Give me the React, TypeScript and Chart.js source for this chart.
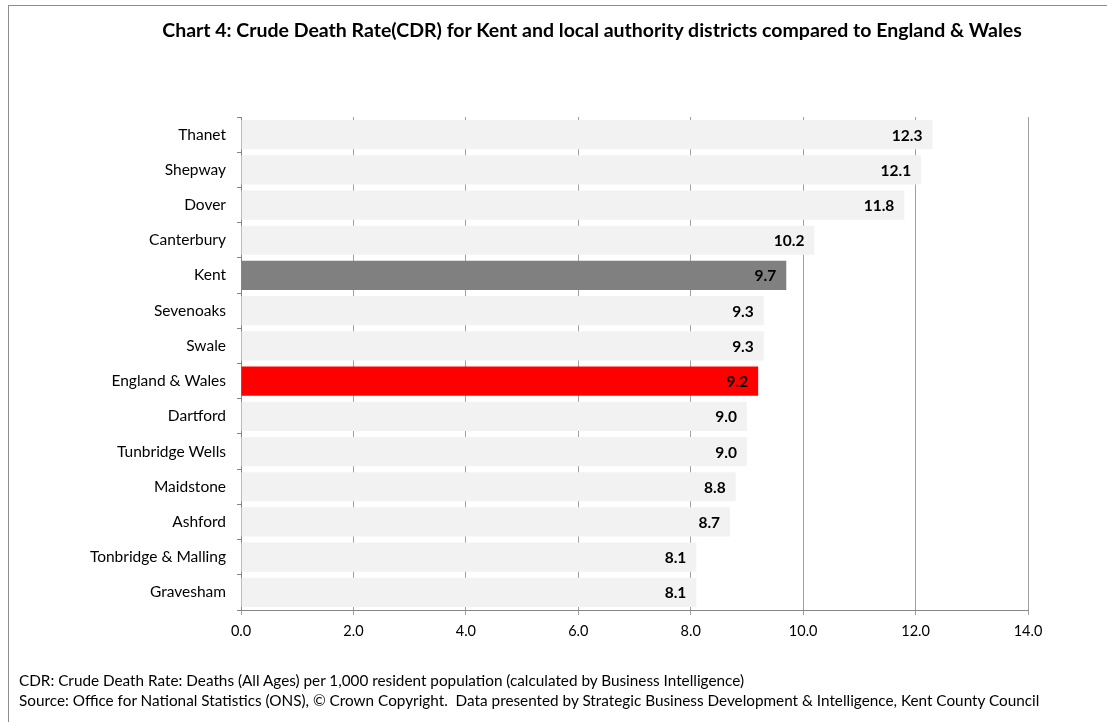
import React, { useEffect, useRef } from "react";
import { Chart, registerables } from "chart.js";

Chart.register(...registerables);

// Districts in display order (top to bottom) and their crude death rates
const districts = [
  "Thanet",
  "Shepway",
  "Dover",
  "Canterbury",
  "Kent",
  "Sevenoaks",
  "Swale",
  "England & Wales",
  "Dartford",
  "Tunbridge Wells",
  "Maidstone",
  "Ashford",
  "Tonbridge & Malling",
  "Gravesham",
];
const deathRates = [12.3, 12.1, 11.8, 10.2, 9.7, 9.3, 9.3, 9.2, 9.0, 9.0, 8.8, 8.7, 8.1, 8.1];

const axisMin = 0;
const axisMax = 14;
const axisStep = 2;

const titleText =
  "Chart 4: Crude Death Rate(CDR) for Kent and local authority districts compared to England & Wales";
const footnoteLines = [
  "CDR: Crude Death Rate: Deaths (All Ages) per 1,000 resident population (calculated by Business Intelligence)",
  "Source: Office for National Statistics (ONS), \u00A9 Crown Copyright.  Data presented by Strategic Business Development & Intelligence, Kent County Council",
];

const FONT = "Lato, 'Open Sans', sans-serif";
const W = 1107;
const H = 722;

function barColour(name: string): string {
  if (name === "Kent") return "#808080";
  if (name === "England & Wales") return "#ff0000";
  return "#f2f2f2";
}

// Writes each bar's value just inside its right-hand end
const valueLabels = {
  id: "valueLabels",
  afterDatasetsDraw(chart: any) {
    const ctx = chart.ctx;
    const meta = chart.getDatasetMeta(0);
    const values = chart.data.datasets[0].data as number[];
    ctx.save();
    ctx.font = `bold 15.5px ${FONT}`;
    ctx.fillStyle = "#000";
    ctx.textAlign = "right";
    ctx.textBaseline = "middle";
    meta.data.forEach((bar: any, i: number) => {
      ctx.fillText(values[i].toFixed(1), bar.x - 10, bar.y + 1);
    });
    ctx.restore();
  },
};

export default function App() {
  const canvasRef = useRef<HTMLCanvasElement | null>(null);

  useEffect(() => {
    if (!canvasRef.current) return;
    const chart = new Chart(canvasRef.current, {
      type: "bar",
      data: {
        labels: districts,
        datasets: [
          {
            data: deathRates,
            backgroundColor: districts.map(barColour),
            borderWidth: 0,
            barPercentage: 0.83,
            categoryPercentage: 1,
          },
        ],
      },
      options: {
        indexAxis: "y",
        responsive: false,
        animation: false,
        events: [],
        layout: { padding: { top: 117, right: 79, left: 0, bottom: 0 } },
        plugins: {
          legend: { display: false },
          title: { display: false },
          tooltip: { enabled: false },
        },
        scales: {
          x: {
            min: axisMin,
            max: axisMax,
            ticks: {
              stepSize: axisStep,
              color: "#000",
              font: { family: FONT, size: 14.5 },
              padding: 8,
              callback: (v: any) => Number(v).toFixed(1),
            },
            grid: {
              color: "#a0a0a0",
              lineWidth: 1,
              drawTicks: true,
              tickLength: 5,
            },
            border: { color: "#868686", width: 1 },
            afterFit: (scale: any) => {
              scale.height = 112;
            },
          },
          y: {
            ticks: {
              color: "#000",
              font: { family: FONT, size: 15.5 },
              padding: 11,
              autoSkip: false,
            },
            grid: {
              drawOnChartArea: false,
              drawTicks: true,
              tickLength: 4,
              color: "#868686",
            },
            border: { color: "#868686", width: 1 },
            afterFit: (scale: any) => {
              scale.width = 241;
            },
          },
        },
      },
      plugins: [valueLabels],
    });
    return () => chart.destroy();
  }, []);

  return (
    <div
      style={{
        position: "absolute",
        left: 0,
        top: 0,
        width: W,
        height: H,
        overflow: "hidden",
        background: "#fff",
        fontFamily: FONT,
      }}
    >
      <canvas
        ref={canvasRef}
        width={W}
        height={H}
        style={{ position: "absolute", left: 0, top: 0, width: W, height: H }}
      />
      <div
        style={{
          position: "absolute",
          left: 8,
          top: 5,
          width: W,
          height: H,
          borderLeft: "1px solid #8c8c8c",
          borderTop: "1px solid #8c8c8c",
          pointerEvents: "none",
        }}
      />
      <div
        style={{
          position: "absolute",
          left: 0,
          top: 18,
          width: 1184,
          textAlign: "center",
          fontWeight: "bold",
          fontSize: 19.5,
          lineHeight: "24px",
          color: "#000",
          whiteSpace: "nowrap",
        }}
      >
        {titleText}
      </div>
      <div
        style={{
          position: "absolute",
          left: 19,
          top: 670,
          fontSize: 15.3,
          lineHeight: "20px",
          color: "#000",
          whiteSpace: "pre",
        }}
      >
        {footnoteLines.map((line) => (
          <div key={line}>{line}</div>
        ))}
      </div>
    </div>
  );
}
